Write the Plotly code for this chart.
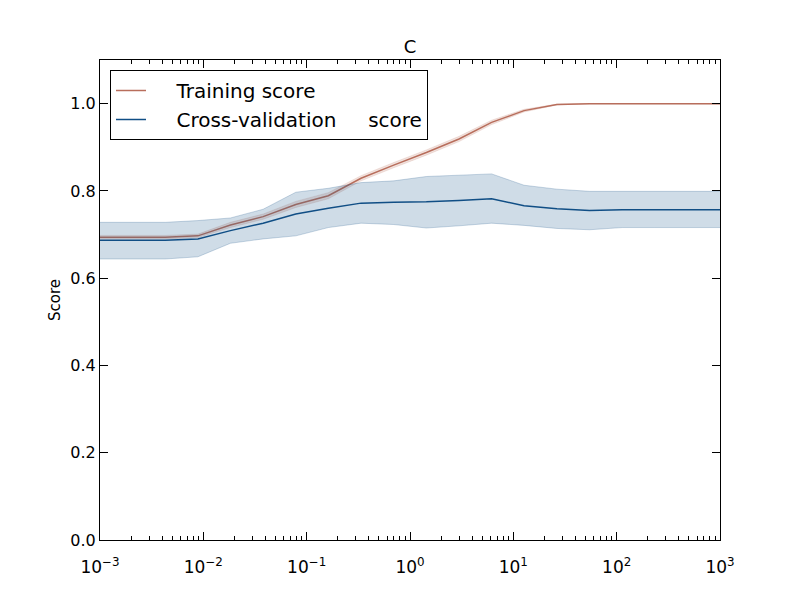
import plotly.graph_objects as go

param_c = [0.001, 0.00207, 0.00428, 0.00886, 0.0183, 0.0379, 0.0785, 0.162,
           0.336, 0.695, 1.44, 2.98, 6.16, 12.7, 26.4, 54.6, 113, 234, 483, 1000]
train_mean = [0.694, 0.694, 0.694, 0.697, 0.722, 0.741, 0.769, 0.789, 0.829, 0.859,
              0.888, 0.919, 0.957, 0.984, 0.998, 1.0, 1.0, 1.0, 1.0, 1.0]
train_upper = [0.698, 0.698, 0.698, 0.701, 0.728, 0.747, 0.776, 0.796, 0.835, 0.865,
               0.894, 0.925, 0.962, 0.987, 0.999, 1.0, 1.0, 1.0, 1.0, 1.0]
train_lower = [0.690, 0.690, 0.690, 0.693, 0.716, 0.735, 0.762, 0.782, 0.823, 0.853,
               0.882, 0.913, 0.952, 0.981, 0.997, 1.0, 1.0, 1.0, 1.0, 1.0]
cv_mean = [0.687, 0.687, 0.687, 0.690, 0.709, 0.726, 0.747, 0.760, 0.772, 0.774,
           0.775, 0.778, 0.782, 0.766, 0.759, 0.755, 0.757, 0.757, 0.757, 0.757]
cv_upper = [0.728, 0.728, 0.728, 0.732, 0.738, 0.758, 0.797, 0.806, 0.819, 0.823,
            0.833, 0.836, 0.839, 0.813, 0.804, 0.799, 0.799, 0.799, 0.799, 0.799]
cv_lower = [0.644, 0.644, 0.644, 0.649, 0.680, 0.690, 0.697, 0.716, 0.726, 0.723,
            0.715, 0.720, 0.726, 0.721, 0.714, 0.711, 0.716, 0.716, 0.716, 0.716]

series_names = ["Training score", "Cross-validation     score"]

x_tickvals = [1e-3, 1e-2, 1e-1, 1e0, 1e1, 1e2, 1e3]
x_ticktext = ["10<sup>\u22123</sup>", "10<sup>\u22122</sup>", "10<sup>\u22121</sup>",
              "10<sup>0</sup>", "10<sup>1</sup>", "10<sup>2</sup>", "10<sup>3</sup>"]
y_tickvals = [0.0, 0.2, 0.4, 0.6, 0.8, 1.0]

minor_vals = [m * d for d in [1e-3, 1e-2, 1e-1, 1e0, 1e1, 1e2] for m in range(2, 10)]

RED = "#b86e5c"
RED_FILL = "rgba(184,110,92,0.2)"
BLUE = "#104e85"
BLUE_FILL = "rgba(16,78,133,0.2)"
BLUE_EDGE = "rgba(16,78,133,0.22)"
FONT = "DejaVu Sans"
NB = "\u00a0"


def legend_label(s):
    # keep the wide gaps visible in SVG text
    return NB * 4 + s.replace(" " * 5, NB * 5)


fig = go.Figure()
# training band
fig.add_trace(go.Scatter(x=param_c, y=train_upper, mode="lines",
                         line=dict(width=0.8, color=RED_FILL), showlegend=False, hoverinfo="skip"))
fig.add_trace(go.Scatter(x=param_c, y=train_lower, mode="lines", fill="tonexty",
                         fillcolor=RED_FILL, line=dict(width=0.8, color=RED_FILL),
                         showlegend=False, hoverinfo="skip"))
fig.add_trace(go.Scatter(x=param_c, y=train_mean, mode="lines", name=legend_label(series_names[0]),
                         line=dict(color=RED, width=1.5)))
# cv band
fig.add_trace(go.Scatter(x=param_c, y=cv_upper, mode="lines",
                         line=dict(width=1, color=BLUE_EDGE), showlegend=False, hoverinfo="skip"))
fig.add_trace(go.Scatter(x=param_c, y=cv_lower, mode="lines", fill="tonexty",
                         fillcolor=BLUE_FILL, line=dict(width=1, color=BLUE_EDGE),
                         showlegend=False, hoverinfo="skip"))
fig.add_trace(go.Scatter(x=param_c, y=cv_mean, mode="lines", name=legend_label(series_names[1]),
                         line=dict(color=BLUE, width=1.5)))

fig.update_layout(
    width=800, height=600,
    margin=dict(l=100, r=80, t=60, b=60),
    paper_bgcolor="white", plot_bgcolor="white",
    font=dict(family=FONT, size=16, color="black"),
    title=dict(text="C", x=410 / 800, xanchor="center", xref="container",
               y=1 - 47 / 600, yanchor="middle", yref="container",
               font=dict(size=18, family=FONT, color="black")),
    legend=dict(x=10 / 620, y=1 - 10 / 480, xanchor="left", yanchor="top",
                bordercolor="black", borderwidth=1, bgcolor="white",
                font=dict(size=20, family=FONT, color="black"),
                traceorder="normal", tracegroupgap=0, itemwidth=30),
    showlegend=True,
)
fig.update_xaxes(type="log", range=[-3, 3], showgrid=False, zeroline=False,
                 showline=True, linecolor="black", linewidth=1, mirror="ticks",
                 ticks="inside", ticklen=8, tickwidth=1, tickcolor="black",
                 tickvals=x_tickvals, ticktext=x_ticktext, ticklabelstandoff=12,
                 tickfont=dict(size=17, family=FONT),
                 minor=dict(ticks="inside", ticklen=4, tickwidth=1, tickcolor="black",
                            tickvals=minor_vals, showgrid=False))
fig.update_yaxes(range=[0, 1.1], showgrid=False, zeroline=False,
                 showline=True, linecolor="black", linewidth=1, mirror="ticks",
                 ticks="inside", ticklen=8, tickwidth=1, tickcolor="black",
                 tickvals=y_tickvals, tickformat=".1f",
                 tickfont=dict(size=16, family=FONT),
                 title=dict(text="Score", font=dict(size=15, family=FONT), standoff=6))

fig.write_html("out.html")
